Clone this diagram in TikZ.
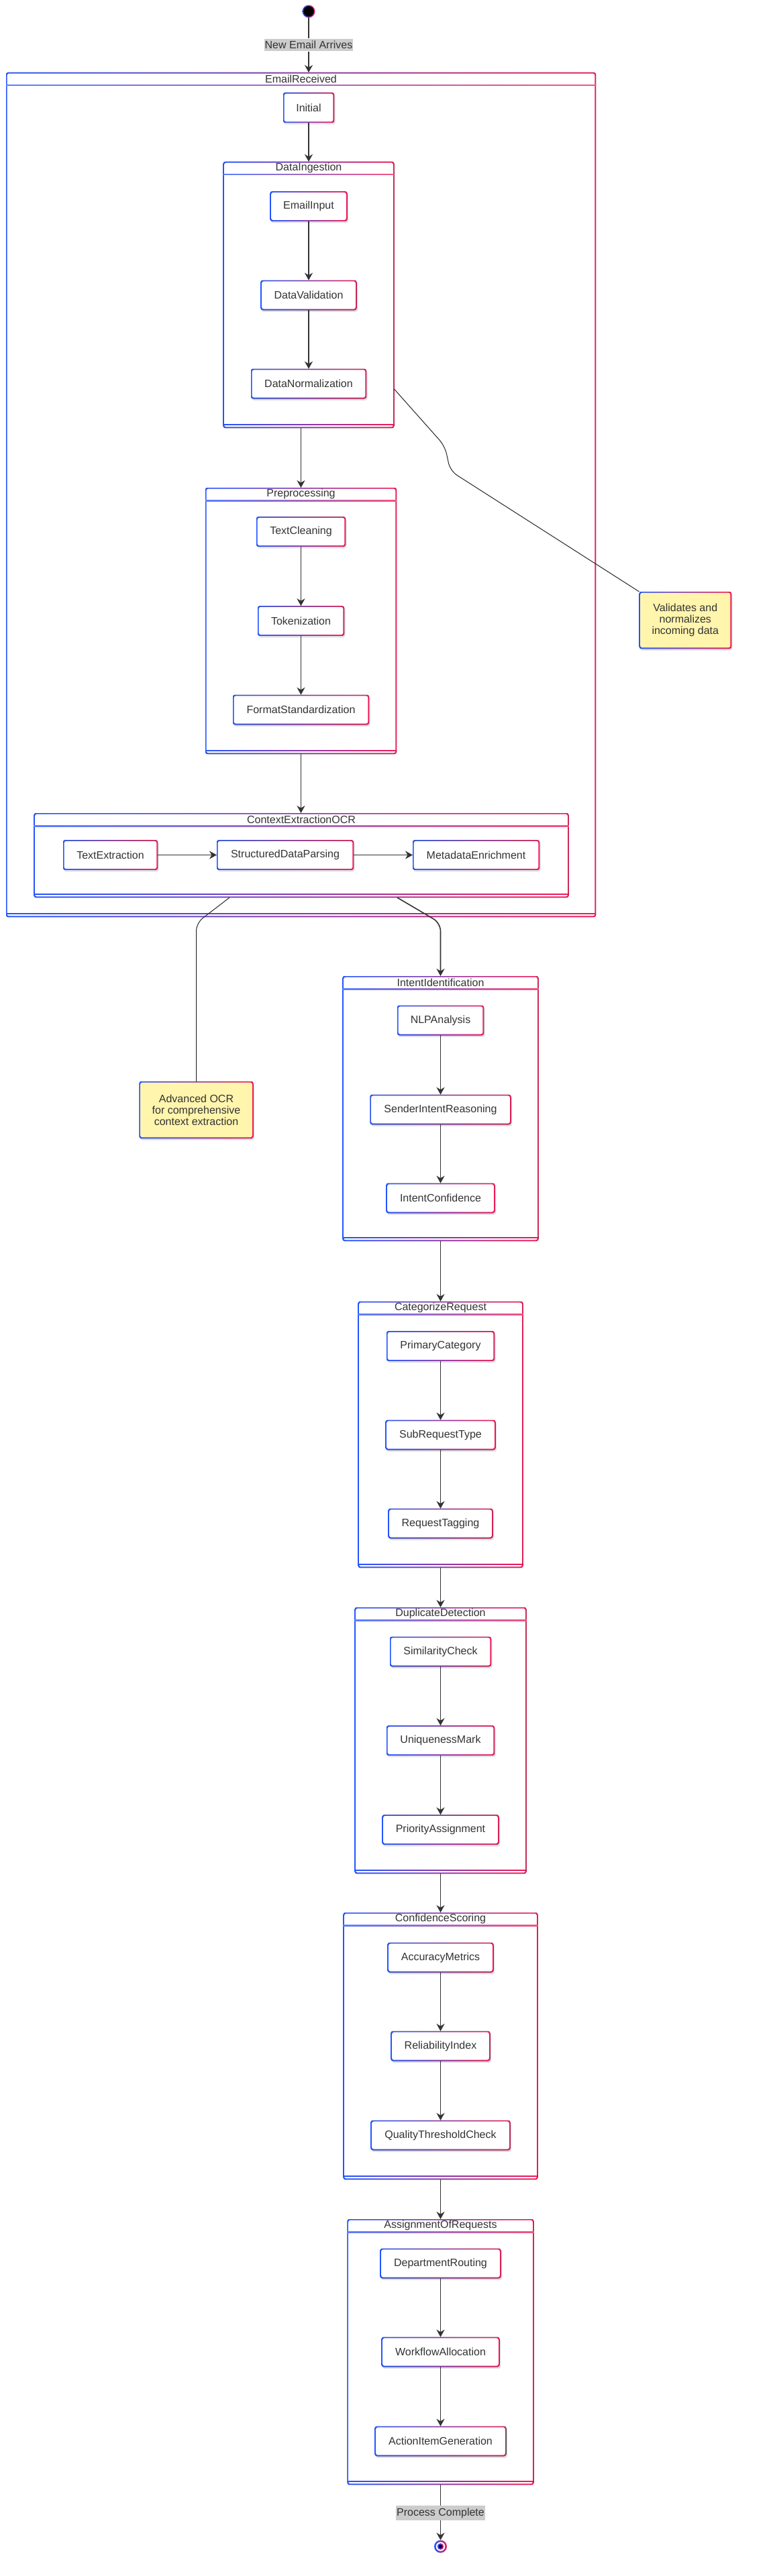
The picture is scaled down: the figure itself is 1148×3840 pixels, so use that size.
\documentclass[tikz,border=0pt]{standalone}
\usepackage{fontspec}
\setmainfont{Liberation Sans}
\usetikzlibrary{arrows.meta,calc}
\pgfdeclarelayer{bg}
\pgfsetlayers{bg,main}
\definecolor{cb}{RGB}{35,85,255}
\definecolor{cr}{RGB}{240,25,85}
\definecolor{tx}{RGB}{51,51,51}
\definecolor{lbl}{RGB}{204,204,204}
\definecolor{notey}{RGB}{255,245,173}
\definecolor{shd}{RGB}{222,222,230}
\tikzset{
 st/.style={inner sep=0pt, outer sep=0pt, minimum height=44.5pt, text=tx, font=\fontsize{16}{19}\selectfont},
 cl/.style={inner sep=0pt, outer sep=0pt},
 ttl/.style={text=tx, font=\fontsize{16}{19}\selectfont, inner sep=0pt},
 lab/.style={fill=lbl, text=tx, font=\fontsize{16}{19}\selectfont, inner xsep=1pt, inner ysep=3.5pt},
 nt/.style={inner sep=0pt, outer sep=0pt, align=center, text=tx, font=\fontsize{16}{17}\selectfont},
 flow/.style={draw=tx, line width=1.6pt, -{Stealth[length=11pt,width=12pt,inset=3.5pt]}},
 plain/.style={draw=tx, line width=1.6pt},
 link/.style={draw=black!85, line width=1pt, rounded corners=12pt},
}
\newcommand\gframe[3]{%
 \begin{pgfonlayer}{bg}
 \fill[left color=cb,right color=cr,rounded corners=#3] (#1.north west) rectangle (#1.south east);
 \fill[#2,rounded corners=#3] ([shift={(1.6pt,-1.6pt)}]#1.north west) rectangle ([shift={(-1.6pt,1.6pt)}]#1.south east);
 \end{pgfonlayer}}
\newcommand\gnode[2][white]{%
 \begin{pgfonlayer}{bg}
 \fill[shd,rounded corners=3pt] ([shift={(1.5pt,-2.5pt)}]#2.north west) rectangle ([shift={(1.5pt,-2.5pt)}]#2.south east);
 \end{pgfonlayer}
 \gframe{#2}{#1}{3pt}}
\newcommand\gclus[1]{%
 \gframe{#1}{white}{3pt}
 \begin{pgfonlayer}{bg}
 \fill[left color=cb!75,right color=cr!75] ([yshift=-18.5pt]#1.north west) rectangle ([yshift=-20pt]#1.north east);
 \fill[left color=cb,right color=cr] ([yshift=4.3pt]#1.south west) rectangle ([yshift=5.8pt]#1.south east);
 \end{pgfonlayer}}
\begin{document}
\begin{tikzpicture}[x=1pt,y=-1pt]
\begin{pgfonlayer}{bg}
\fill[white] (0,0) rectangle (1148,3840);
\end{pgfonlayer}
\useasboundingbox (0,0) rectangle (1148,3840);

% ---- start
\node[circle, inner sep=0pt, outer sep=0pt, minimum size=19pt, left color=cb, right color=cr] (start) at (460,17) {};
\fill[black] (start) circle (7.8pt);
\node[lab] (lab1) at (460,67) {New Email Arrives};

% ---- EmailReceived
\node[cl, minimum width=879pt, minimum height=1259pt] (er) at (448.5,737.5) {};
\gclus{er}
\node[ttl] (er-t) at ([yshift=-9.5pt]er.north) {EmailReceived};
\node[st, minimum width=76pt, minimum height=45pt] (init) at (460,160.5) {Initial};
\gnode{init}

% DataIngestion
\node[cl, minimum width=255pt, minimum height=397pt] (di) at (460,439.5) {};
\gclus{di}
\node[ttl] (di-t) at ([yshift=-9.5pt]di.north) {DataIngestion};
\node[st, minimum width=115pt] (ein) at (460,307.5) {EmailInput};
\gnode{ein}
\node[st, minimum width=143pt] (dv) at (460,440) {DataValidation};
\gnode{dv}
\node[st, minimum width=172pt] (dn) at (460,572) {DataNormalization};
\gnode{dn}

% Preprocessing
\node[cl, minimum width=285pt, minimum height=397pt] (pp) at (448.5,925.5) {};
\gclus{pp}
\node[ttl] (pp-t) at ([yshift=-9.5pt]pp.north) {Preprocessing};
\node[st, minimum width=133pt] (tc) at (448.5,792.5) {TextCleaning};
\gnode{tc}
\node[st, minimum width=129pt] (tk) at (448.5,925.5) {Tokenization};
\gnode{tk}
\node[st, minimum width=203pt] (fs) at (448.5,1058) {FormatStandardization};
\gnode{fs}

% ContextExtractionOCR
\node[cl, minimum width=797pt, minimum height=126pt] (ceo) at (449,1275) {};
\gclus{ceo}
\node[ttl] (ceo-t) at ([yshift=-9.5pt]ceo.north) {ContextExtractionOCR};
\node[st, minimum width=141pt] (te) at (164.5,1274.5) {TextExtraction};
\gnode{te}
\node[st, minimum width=204pt] (sdp) at (425,1274.5) {StructuredDataParsing};
\gnode{sdp}
\node[st, minimum width=189pt] (me) at (709.5,1274.5) {MetadataEnrichment};
\gnode{me}

% ---- notes
\node[nt, minimum width=137.5pt, minimum height=85pt] (n1) at (1021.3,924.5) {Validates and\\normalizes\\incoming data};
\gnode[notey]{n1}
\node[nt, minimum width=170pt, minimum height=85pt] (n2) at (292.5,1654.5) {Advanced OCR\\for comprehensive\\context extraction};
\gnode[notey]{n2}

% ---- IntentIdentification
\node[cl, minimum width=292pt, minimum height=395pt] (ii) at (656.5,1652.5) {};
\gclus{ii}
\node[ttl] (ii-t) at ([yshift=-9.5pt]ii.north) {IntentIdentification};
\node[st, minimum width=129pt] (nlp) at (656.5,1521) {NLPAnalysis};
\gnode{nlp}
\node[st, minimum width=210pt] (sir) at (656.5,1654) {SenderIntentReasoning};
\gnode{sir}
\node[st, minimum width=162pt] (ic) at (656.5,1786) {IntentConfidence};
\gnode{ic}

% CategorizeRequest
\node[cl, minimum width=246pt, minimum height=397pt] (cq) at (656.5,2138.5) {};
\gclus{cq}
\node[ttl] (cq-t) at ([yshift=-9.5pt]cq.north) {CategorizeRequest};
\node[st, minimum width=161pt] (pc) at (656.5,2006.5) {PrimaryCategory};
\gnode{pc}
\node[st, minimum width=164pt] (srt) at (656.5,2139) {SubRequestType};
\gnode{srt}
\node[st, minimum width=156pt] (rt) at (656.5,2271) {RequestTagging};
\gnode{rt}

% DuplicateDetection
\node[cl, minimum width=256pt, minimum height=397pt] (dd) at (656.5,2594.5) {};
\gclus{dd}
\node[ttl] (dd-t) at ([yshift=-9.5pt]dd.north) {DuplicateDetection};
\node[st, minimum width=151pt] (sc) at (656.5,2462) {SimilarityCheck};
\gnode{sc}
\node[st, minimum width=161pt] (um) at (656.5,2594.5) {UniquenessMark};
\gnode{um}
\node[st, minimum width=174pt] (pa) at (656.5,2727.5) {PriorityAssignment};
\gnode{pa}

% ConfidenceScoring
\node[cl, minimum width=290pt, minimum height=398pt] (cs) at (656.5,3050) {};
\gclus{cs}
\node[ttl] (cs-t) at ([yshift=-9.5pt]cs.north) {ConfidenceScoring};
\node[st, minimum width=158pt] (am) at (656.5,2918) {AccuracyMetrics};
\gnode{am}
\node[st, minimum width=148pt] (ri) at (656.5,3050) {ReliabilityIndex};
\gnode{ri}
\node[st, minimum width=208pt] (qtc) at (656.5,3183) {QualityThresholdCheck};
\gnode{qtc}

% AssignmentOfRequests
\node[cl, minimum width=278pt, minimum height=396pt] (aor) at (656.5,3506) {};
\gclus{aor}
\node[ttl] (aor-t) at ([yshift=-9.5pt]aor.north) {AssignmentOfRequests};
\node[st, minimum width=180pt] (dr) at (656.5,3374) {DepartmentRouting};
\gnode{dr}
\node[st, minimum width=176pt] (wa) at (656.5,3506) {WorkflowAllocation};
\gnode{wa}
\node[st, minimum width=196pt] (aig) at (656.5,3639) {ActionItemGeneration};
\gnode{aig}

% ---- end
\node[lab] (lab2) at (656.5,3746) {Process Complete};
\node[circle, inner sep=0pt, outer sep=0pt, minimum size=19pt, left color=cb, right color=cr] (end) at (656.5,3796) {};
\fill[white] (end) circle (6.8pt);
\fill[left color=cb, right color=cr] (end) circle (4.6pt);
\fill[black!70!blue] (end) circle (2.8pt);

% ---- connectors
\coordinate (b1) at (663,665);
\coordinate (b2) at (671,702);
\coordinate (b3) at (292.5,1376);
\coordinate (b4) at (656.5,1376);

\draw[plain] (start.south) -- (lab1.north);
\draw[flow] (lab1.south) -- (lab1.south |- er.north);
\draw[flow] (init.south) -- (di.north);
\draw[flow] (ein.south) -- (dv.north);
\draw[flow] (dv.south) -- (dn.north);
\draw[flow] (pp.north |- di.south) -- (pp.north);
\draw[flow] (tc.south) -- (tk.north);
\draw[flow] (tk.south) -- (fs.north);
\draw[flow] (pp.south) -- (pp.south |- ceo.north);
\draw[flow] (te.east) -- (sdp.west);
\draw[flow] (sdp.east) -- (me.west);
\draw[flow, rounded corners=12pt] ([xshift=143pt]ceo.south) -- (b4) -- (ii.north);
\draw[flow] (nlp.south) -- (sir.north);
\draw[flow] (sir.south) -- (ic.north);
\draw[flow] (ii.south) -- (cq.north);
\draw[flow] (pc.south) -- (srt.north);
\draw[flow] (srt.south) -- (rt.north);
\draw[flow] (cq.south) -- (dd.north);
\draw[flow] (sc.south) -- (um.north);
\draw[flow] (um.south) -- (pa.north);
\draw[flow] (dd.south) -- (cs.north);
\draw[flow] (am.south) -- (ri.north);
\draw[flow] (ri.south) -- (qtc.north);
\draw[flow] (cs.south) -- (aor.north);
\draw[flow] (dr.south) -- (wa.north);
\draw[flow] (wa.south) -- (aig.north);
\draw[plain] (aor.south) -- (lab2.north);
\draw[flow] (lab2.south) -- (end.north);

\draw[link] ([yshift=58pt]di.south east) -- (b1) -- (b2) -- (n1.north west);
\draw[link] ([xshift=-107pt]ceo.south) -- (b3) -- (n2.north);
\end{tikzpicture}
\end{document}
